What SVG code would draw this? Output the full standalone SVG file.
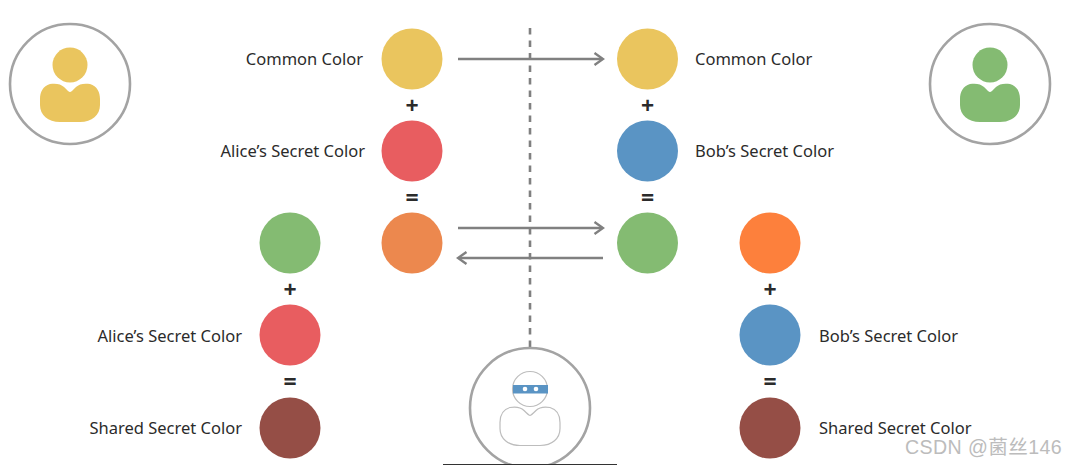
<svg xmlns="http://www.w3.org/2000/svg" width="1066" height="465" viewBox="0 0 1066 465">
<defs>
<path id="body" d="M-20 -19 C-14 -20 -9 -19 -6 -16 C-3 -13 -1 -11 0 -11 C1 -11 3 -13 6 -16 C9 -19 14 -20 20 -19 C27 -17 30 -11 30 -4 L30 2 C30 12 22 19 10 19 L-10 19 C-22 19 -30 12 -30 2 L-30 -4 C-30 -11 -27 -17 -20 -19 Z"/>
<marker id="ah" viewBox="0 0 12 14" refX="9" refY="7" markerWidth="12" markerHeight="14" markerUnits="userSpaceOnUse" orient="auto"><path d="M1.5 1 L10 7 L1.5 13" fill="none" stroke="#808080" stroke-width="2.4"/></marker>
</defs>
<style>
.t{font-family:"Noto Sans","Open Sans","Liberation Sans",sans-serif;font-size:16.5px;fill:#2b2b2b}
.o{font-family:"Noto Sans","Open Sans","Liberation Sans",sans-serif;font-size:23px;font-weight:700;fill:#2b2b2b;text-anchor:middle}
.r{text-anchor:end}
.ring{fill:#fff;stroke:#a3a3a3;stroke-width:2.6}
.conn{fill:none;stroke:#808080;stroke-width:2.6}
.y{fill:#eac55e}.p{fill:#e85d60}.b{fill:#5a94c4}.g{fill:#84bb72}.a{fill:#ec884e}.f{fill:#fd803c}.m{fill:#954e46}
</style>
<rect width="1066" height="465" fill="#fff"/>
<g id="connectors">
<path d="M530 28 V348" fill="none" stroke="#808080" stroke-width="2.6" stroke-dasharray="6.5 6"/>
<path class="conn" d="M458 59 H602" marker-end="url(#ah)"/>
<path class="conn" d="M458 228 H602" marker-end="url(#ah)"/>
<path class="conn" d="M603 258 H459" marker-end="url(#ah)"/>
</g>
<g id="alice"><circle class="ring" cx="70" cy="84" r="60"/><circle class="y" cx="70" cy="65" r="17.5"/><use href="#body" class="y" x="70" y="103"/></g>
<g id="bob"><circle class="ring" cx="990" cy="84" r="60"/><circle class="g" cx="990" cy="65" r="17.5"/><use href="#body" class="g" x="990" y="103"/></g>
<g id="eve">
<circle class="ring" cx="530" cy="408" r="60"/>
<circle cx="530" cy="389" r="17.5" fill="#fff" stroke="#bdbdbd" stroke-width="1.2"/>
<use href="#body" x="530" y="426.5" fill="#fff" stroke="#bdbdbd" stroke-width="1.2"/>
<rect x="513" y="385" width="35" height="8.5" fill="#5a94c4"/>
<circle cx="525" cy="389" r="2.3" fill="#fff"/><circle cx="536" cy="389" r="2.3" fill="#fff"/>
</g>
<g id="alice-common"><circle class="y" cx="412" cy="59" r="30.5"/><text class="t r" x="363" y="65">Common Color</text></g>
<g id="alice-secret"><circle class="p" cx="412" cy="151" r="30.5"/><text class="t r" x="365" y="157">Alice’s Secret Color</text></g>
<g id="alice-mix"><circle class="a" cx="412" cy="243" r="30.5"/></g>
<g id="bob-common"><circle class="y" cx="647.5" cy="59" r="30.5"/><text class="t" x="695" y="65">Common Color</text></g>
<g id="bob-secret"><circle class="b" cx="647.5" cy="151" r="30.5"/><text class="t" x="695" y="157">Bob’s Secret Color</text></g>
<g id="bob-mix"><circle class="g" cx="647.5" cy="243" r="30.5"/></g>
<g id="alice-received"><circle class="g" cx="290" cy="243" r="30.5"/></g>
<g id="alice-secret-2"><circle class="p" cx="290" cy="335" r="30.5"/><text class="t r" x="242" y="342">Alice’s Secret Color</text></g>
<g id="alice-shared"><circle class="m" cx="290" cy="428" r="30.5"/><text class="t r" x="242" y="434">Shared Secret Color</text></g>
<g id="bob-received"><circle class="f" cx="770" cy="243" r="30.5"/></g>
<g id="bob-secret-2"><circle class="b" cx="770" cy="335" r="30.5"/><text class="t" x="819" y="342">Bob’s Secret Color</text></g>
<g id="bob-shared"><circle class="m" cx="770" cy="428" r="30.5"/><text class="t" x="819" y="434">Shared Secret Color</text></g>
<g id="operators">
<text class="o" x="412" y="114">+</text><text class="o" x="412" y="206">=</text>
<text class="o" x="647.5" y="114">+</text><text class="o" x="647.5" y="206">=</text>
<text class="o" x="290" y="298">+</text><text class="o" x="290" y="390">=</text>
<text class="o" x="770" y="298">+</text><text class="o" x="770" y="390">=</text>
</g>
<rect x="443" y="464" width="174" height="1" fill="#333"/>
<text x="905" y="454" font-family="'Liberation Sans','Noto Sans CJK SC',sans-serif" font-size="19.6" fill="#bcbcbc" letter-spacing="0.4">CSDN @菌丝146</text>
</svg>
